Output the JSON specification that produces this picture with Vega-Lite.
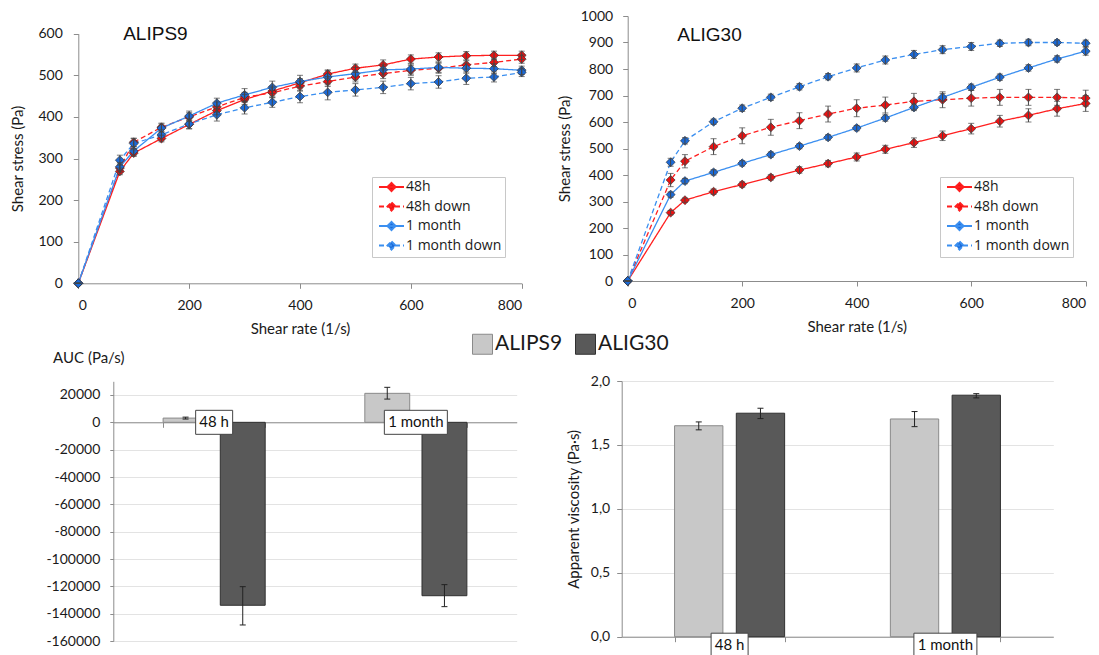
{
"$schema": "https://vega.github.io/schema/vega-lite/v6.json",
"width": 1099, "height": 655, "autosize": {"type": "none"}, "padding": 0,
"config": {
  "view": {"stroke": null},
  "locale": {"number": {"decimal": ",", "thousands": ".", "grouping": [3], "currency": ["", " €"], "minus": "-"}},
  "axis": {"labelFont": "Lato", "titleFont": "Lato", "labelFontSize": 14, "titleFontSize": 15, "titleFontWeight": "normal", "labelColor": "#1a1a1a", "titleColor": "#1a1a1a", "domainColor": "#8c8c8c", "tickColor": "#8c8c8c", "grid": false},
  "legend": {"labelFont": "Open Sans", "labelColor": "#1a1a1a"}
},
"resolve": {
  "scale": {"x": "independent", "y": "independent", "xOffset": "independent", "fill": "independent", "stroke": "independent", "strokeDash": "independent", "shape": "independent"},
  "axis": {"x": "independent", "y": "independent"},
  "legend": {"fill": "independent", "stroke": "independent", "strokeDash": "independent", "shape": "independent"}
},
"layer": [
{
  "data": {"values": [
    {"s":"48h","x":0,"v":0,"e":0},{"s":"48h","x":75,"v":269,"e":8},{"s":"48h","x":100,"v":313,"e":8},{"s":"48h","x":150,"v":348,"e":8},{"s":"48h","x":200,"v":382,"e":10},{"s":"48h","x":250,"v":415,"e":10},{"s":"48h","x":300,"v":442,"e":12},{"s":"48h","x":350,"v":462,"e":12},{"s":"48h","x":400,"v":482,"e":10},{"s":"48h","x":450,"v":503,"e":10},{"s":"48h","x":500,"v":517,"e":10},{"s":"48h","x":550,"v":525,"e":12},{"s":"48h","x":600,"v":539,"e":10},{"s":"48h","x":650,"v":544,"e":10},{"s":"48h","x":700,"v":547,"e":10},{"s":"48h","x":750,"v":548,"e":10},{"s":"48h","x":800,"v":548,"e":10},
    {"s":"48h down","x":0,"v":0,"e":0},{"s":"48h down","x":75,"v":277,"e":10},{"s":"48h down","x":100,"v":339,"e":10},{"s":"48h down","x":150,"v":375,"e":10},{"s":"48h down","x":200,"v":400,"e":10},{"s":"48h down","x":250,"v":424,"e":12},{"s":"48h down","x":300,"v":447,"e":12},{"s":"48h down","x":350,"v":458,"e":12},{"s":"48h down","x":400,"v":474,"e":12},{"s":"48h down","x":450,"v":485,"e":12},{"s":"48h down","x":500,"v":496,"e":12},{"s":"48h down","x":550,"v":504,"e":12},{"s":"48h down","x":600,"v":512,"e":12},{"s":"48h down","x":650,"v":517,"e":12},{"s":"48h down","x":700,"v":525,"e":10},{"s":"48h down","x":750,"v":531,"e":10},{"s":"48h down","x":800,"v":539,"e":10},
    {"s":"1 month","x":0,"v":0,"e":0},{"s":"1 month","x":75,"v":280,"e":10},{"s":"1 month","x":100,"v":318,"e":10},{"s":"1 month","x":150,"v":373,"e":10},{"s":"1 month","x":200,"v":402,"e":12},{"s":"1 month","x":250,"v":433,"e":12},{"s":"1 month","x":300,"v":453,"e":15},{"s":"1 month","x":350,"v":471,"e":15},{"s":"1 month","x":400,"v":485,"e":15},{"s":"1 month","x":450,"v":496,"e":15},{"s":"1 month","x":500,"v":504,"e":15},{"s":"1 month","x":550,"v":513,"e":12},{"s":"1 month","x":600,"v":515,"e":12},{"s":"1 month","x":650,"v":519,"e":12},{"s":"1 month","x":700,"v":517,"e":12},{"s":"1 month","x":750,"v":516,"e":12},{"s":"1 month","x":800,"v":512,"e":10},
    {"s":"1 month down","x":0,"v":0,"e":0},{"s":"1 month down","x":75,"v":296,"e":12},{"s":"1 month down","x":100,"v":336,"e":12},{"s":"1 month down","x":150,"v":357,"e":12},{"s":"1 month down","x":200,"v":383,"e":12},{"s":"1 month down","x":250,"v":405,"e":15},{"s":"1 month down","x":300,"v":422,"e":15},{"s":"1 month down","x":350,"v":435,"e":12},{"s":"1 month down","x":400,"v":449,"e":15},{"s":"1 month down","x":450,"v":459,"e":18},{"s":"1 month down","x":500,"v":465,"e":15},{"s":"1 month down","x":550,"v":471,"e":15},{"s":"1 month down","x":600,"v":480,"e":15},{"s":"1 month down","x":650,"v":484,"e":15},{"s":"1 month down","x":700,"v":493,"e":15},{"s":"1 month down","x":750,"v":496,"e":12},{"s":"1 month down","x":800,"v":507,"e":10}
  ]},
  "layer": [
    {"mark": {"type": "line", "strokeWidth": 1.3},
     "encoding": {
       "x": {"field": "x", "type": "quantitative", "title": "Shear rate (1/s)", "scale": {"domain": [0, 800], "range": [78.3, 521.7], "nice": false}, "axis": {"orient": "bottom", "offset": -371.7, "values": [0, 200, 400, 600, 800], "format": "d", "tickSize": 5, "labelPadding": 10, "titlePadding": 9}},
       "y": {"field": "v", "type": "quantitative", "title": "Shear stress (Pa)", "scale": {"domain": [0, 600], "range": [283.3, 33.7], "nice": false}, "axis": {"orient": "left", "offset": -78.3, "values": [0, 100, 200, 300, 400, 500, 600], "format": "d", "tickSize": 5, "labelPadding": 11, "titlePadding": 12}},
       "stroke": {"field": "s", "type": "nominal", "scale": {"domain": ["48h", "48h down", "1 month", "1 month down"], "range": ["#ff1f1f", "#ff1f1f", "#3b8ff0", "#3b8ff0"]}, "legend": {"orient": "none", "legendX": 372, "legendY": 177, "title": null, "padding": 3, "fillColor": "white", "strokeColor": "#c8c8c8", "symbolType": "M-0.6,0H4.4M1.9,-0.8L2.7,0L1.9,0.8L1.1,0Z", "symbolSize": 100, "symbolStrokeWidth": 2, "labelFontSize": 14, "labelOffset": 17, "rowPadding": 3.5}},
       "strokeDash": {"field": "s", "type": "nominal", "scale": {"domain": ["48h", "48h down", "1 month", "1 month down"], "range": [[1, 0], [5, 3], [1, 0], [5, 3]]}, "legend": {"orient": "none", "legendX": 372, "legendY": 177, "title": null, "padding": 3, "fillColor": "white", "strokeColor": "#c8c8c8", "symbolType": "M-0.6,0H4.4M1.9,-0.8L2.7,0L1.9,0.8L1.1,0Z", "symbolSize": 100, "symbolStrokeWidth": 2, "labelFontSize": 14, "labelOffset": 17, "rowPadding": 3.5}}
     }},
    {"mark": {"type": "point", "shape": "diamond", "filled": true, "size": 80, "stroke": "#333", "strokeWidth": 0.7, "opacity": 1},
     "encoding": {
       "x": {"field": "x", "type": "quantitative", "title": "Shear rate (1/s)"},
       "y": {"field": "v", "type": "quantitative", "title": "Shear stress (Pa)"},
       "fill": {"field": "s", "type": "nominal", "scale": {"domain": ["48h", "48h down", "1 month", "1 month down"], "range": ["#ee1111", "#ee1111", "#1b6ad8", "#1b6ad8"]}, "legend": {"orient": "none", "legendX": 372, "legendY": 177, "title": null, "padding": 3, "fillColor": "white", "strokeColor": "#c8c8c8", "symbolType": "M-0.6,0H4.4M1.9,-0.8L2.7,0L1.9,0.8L1.1,0Z", "symbolSize": 100, "symbolStrokeWidth": 2, "labelFontSize": 14, "labelOffset": 17, "rowPadding": 3.5}}
     }},
    {"mark": {"type": "errorbar", "ticks": {"size": 6}, "color": "#444", "thickness": 1},
     "encoding": {"x": {"field": "x", "type": "quantitative", "title": "Shear rate (1/s)"}, "y": {"field": "v", "type": "quantitative", "title": "Shear stress (Pa)"}, "yError": {"field": "e"}}},
    {"data": {"values": [{"label": "ALIPS9"}]},
     "mark": {"type": "text", "font": "Liberation Sans", "fontSize": 19, "fontWeight": "normal", "align": "left", "baseline": "alphabetic", "color": "#111"},
     "encoding": {"x": {"datum": 81}, "y": {"datum": 585}, "text": {"field": "label"}}}
  ]
},
{
  "data": {"values": [
    {"s":"48h","x":0,"v":0,"e":0},{"s":"48h","x":75,"v":258,"e":8},{"s":"48h","x":100,"v":305,"e":8},{"s":"48h","x":150,"v":337,"e":10},{"s":"48h","x":200,"v":364,"e":10},{"s":"48h","x":250,"v":391,"e":10},{"s":"48h","x":300,"v":419,"e":12},{"s":"48h","x":350,"v":443,"e":12},{"s":"48h","x":400,"v":468,"e":15},{"s":"48h","x":450,"v":497,"e":15},{"s":"48h","x":500,"v":522,"e":18},{"s":"48h","x":550,"v":548,"e":18},{"s":"48h","x":600,"v":575,"e":20},{"s":"48h","x":650,"v":603,"e":22},{"s":"48h","x":700,"v":625,"e":25},{"s":"48h","x":750,"v":650,"e":28},{"s":"48h","x":800,"v":670,"e":30},
    {"s":"48h down","x":0,"v":0,"e":0},{"s":"48h down","x":75,"v":381,"e":25},{"s":"48h down","x":100,"v":452,"e":25},{"s":"48h down","x":150,"v":507,"e":30},{"s":"48h down","x":200,"v":548,"e":30},{"s":"48h down","x":250,"v":580,"e":30},{"s":"48h down","x":300,"v":605,"e":30},{"s":"48h down","x":350,"v":630,"e":30},{"s":"48h down","x":400,"v":652,"e":32},{"s":"48h down","x":450,"v":664,"e":30},{"s":"48h down","x":500,"v":678,"e":30},{"s":"48h down","x":550,"v":684,"e":30},{"s":"48h down","x":600,"v":690,"e":30},{"s":"48h down","x":650,"v":693,"e":30},{"s":"48h down","x":700,"v":693,"e":30},{"s":"48h down","x":750,"v":693,"e":30},{"s":"48h down","x":800,"v":690,"e":30},
    {"s":"1 month","x":0,"v":0,"e":0},{"s":"1 month","x":75,"v":326,"e":10},{"s":"1 month","x":100,"v":377,"e":10},{"s":"1 month","x":150,"v":410,"e":10},{"s":"1 month","x":200,"v":444,"e":10},{"s":"1 month","x":250,"v":477,"e":10},{"s":"1 month","x":300,"v":509,"e":10},{"s":"1 month","x":350,"v":542,"e":10},{"s":"1 month","x":400,"v":577,"e":10},{"s":"1 month","x":450,"v":615,"e":12},{"s":"1 month","x":500,"v":655,"e":12},{"s":"1 month","x":550,"v":693,"e":15},{"s":"1 month","x":600,"v":731,"e":12},{"s":"1 month","x":650,"v":769,"e":12},{"s":"1 month","x":700,"v":804,"e":12},{"s":"1 month","x":750,"v":838,"e":12},{"s":"1 month","x":800,"v":867,"e":15},
    {"s":"1 month down","x":0,"v":0,"e":0},{"s":"1 month down","x":75,"v":448,"e":15},{"s":"1 month down","x":100,"v":529,"e":12},{"s":"1 month down","x":150,"v":601,"e":10},{"s":"1 month down","x":200,"v":652,"e":12},{"s":"1 month down","x":250,"v":693,"e":12},{"s":"1 month down","x":300,"v":733,"e":12},{"s":"1 month down","x":350,"v":771,"e":12},{"s":"1 month down","x":400,"v":804,"e":15},{"s":"1 month down","x":450,"v":834,"e":15},{"s":"1 month down","x":500,"v":855,"e":15},{"s":"1 month down","x":550,"v":873,"e":15},{"s":"1 month down","x":600,"v":885,"e":15},{"s":"1 month down","x":650,"v":897,"e":12},{"s":"1 month down","x":700,"v":900,"e":12},{"s":"1 month down","x":750,"v":900,"e":10},{"s":"1 month down","x":800,"v":897,"e":12}
  ]},
  "layer": [
    {"mark": {"type": "line", "strokeWidth": 1.3},
     "encoding": {
       "x": {"field": "x", "type": "quantitative", "title": "Shear rate (1/s)", "scale": {"domain": [0, 800], "range": [627.7, 1085.7], "nice": false}, "axis": {"orient": "bottom", "offset": -374, "values": [0, 200, 400, 600, 800], "format": "d", "tickSize": 5, "labelPadding": 10, "titlePadding": 9}},
       "y": {"field": "v", "type": "quantitative", "title": "Shear stress (Pa)", "scale": {"domain": [0, 1000], "range": [281, 16], "nice": false}, "axis": {"orient": "left", "offset": -627.7, "values": [0, 100, 200, 300, 400, 500, 600, 700, 800, 900, 1000], "format": "d", "tickSize": 5, "labelPadding": 10, "titlePadding": 8}},
       "stroke": {"field": "s", "type": "nominal", "scale": {"domain": ["48h", "48h down", "1 month", "1 month down"], "range": ["#ff1f1f", "#ff1f1f", "#3b8ff0", "#3b8ff0"]}, "legend": {"orient": "none", "legendX": 940, "legendY": 177, "title": null, "padding": 3, "fillColor": "white", "strokeColor": "#c8c8c8", "symbolType": "M-0.6,0H4.4M1.9,-0.8L2.7,0L1.9,0.8L1.1,0Z", "symbolSize": 100, "symbolStrokeWidth": 2, "labelFontSize": 14, "labelOffset": 17, "rowPadding": 3.5}},
       "strokeDash": {"field": "s", "type": "nominal", "scale": {"domain": ["48h", "48h down", "1 month", "1 month down"], "range": [[1, 0], [5, 3], [1, 0], [5, 3]]}, "legend": {"orient": "none", "legendX": 940, "legendY": 177, "title": null, "padding": 3, "fillColor": "white", "strokeColor": "#c8c8c8", "symbolType": "M-0.6,0H4.4M1.9,-0.8L2.7,0L1.9,0.8L1.1,0Z", "symbolSize": 100, "symbolStrokeWidth": 2, "labelFontSize": 14, "labelOffset": 17, "rowPadding": 3.5}}
     }},
    {"mark": {"type": "point", "shape": "diamond", "filled": true, "size": 80, "stroke": "#333", "strokeWidth": 0.7, "opacity": 1},
     "encoding": {
       "x": {"field": "x", "type": "quantitative", "title": "Shear rate (1/s)"},
       "y": {"field": "v", "type": "quantitative", "title": "Shear stress (Pa)"},
       "fill": {"field": "s", "type": "nominal", "scale": {"domain": ["48h", "48h down", "1 month", "1 month down"], "range": ["#ee1111", "#ee1111", "#1b6ad8", "#1b6ad8"]}, "legend": {"orient": "none", "legendX": 940, "legendY": 177, "title": null, "padding": 3, "fillColor": "white", "strokeColor": "#c8c8c8", "symbolType": "M-0.6,0H4.4M1.9,-0.8L2.7,0L1.9,0.8L1.1,0Z", "symbolSize": 100, "symbolStrokeWidth": 2, "labelFontSize": 14, "labelOffset": 17, "rowPadding": 3.5}}
     }},
    {"mark": {"type": "errorbar", "ticks": {"size": 6}, "color": "#444", "thickness": 1},
     "encoding": {"x": {"field": "x", "type": "quantitative", "title": "Shear rate (1/s)"}, "y": {"field": "v", "type": "quantitative", "title": "Shear stress (Pa)"}, "yError": {"field": "e"}}},
    {"data": {"values": [{"label": "ALIG30"}]},
     "mark": {"type": "text", "font": "Liberation Sans", "fontSize": 19, "fontWeight": "normal", "align": "left", "baseline": "alphabetic", "color": "#111"},
     "encoding": {"x": {"datum": 86.6}, "y": {"datum": 907}, "text": {"field": "label"}}}
  ]
},
{
  "data": {"values": [
    {"period": "48 h", "material": "ALIPS9", "v": 3100, "lo": 2400, "hi": 3800},
    {"period": "48 h", "material": "ALIG30", "v": -133800, "lo": -148200, "hi": -120200},
    {"period": "1 month", "material": "ALIPS9", "v": 21200, "lo": 17000, "hi": 25600},
    {"period": "1 month", "material": "ALIG30", "v": -126800, "lo": -134800, "hi": -118700}
  ]},
  "layer": [
    {"mark": {"type": "bar", "opacity": 1, "strokeWidth": 1},
     "encoding": {
       "x": {"field": "period", "type": "nominal", "sort": ["48 h", "1 month"], "scale": {"domain": ["48 h", "1 month"], "range": [113.3, 516.7], "paddingInner": 0.494, "paddingOuter": 0.247}, "axis": {"orient": "bottom", "offset": -232.7, "labels": false, "title": null, "tickBand": "extent", "tickSize": 5}},
       "xOffset": {"field": "material", "type": "nominal", "sort": ["ALIPS9", "ALIG30"], "scale": {"domain": ["ALIPS9", "ALIG30"], "paddingInner": 0.215, "paddingOuter": 0}},
       "y": {"field": "v", "type": "quantitative", "title": "AUC (Pa/s)", "scale": {"domain": [-160000, 30000], "range": [641.1, 381.3], "nice": false}, "axis": {"orient": "left", "offset": -113.3, "values": [-160000, -140000, -120000, -100000, -80000, -60000, -40000, -20000, 0, 20000], "format": "d", "grid": true, "gridColor": "#e3e3e3", "tickSize": 3.5, "labelPadding": 10, "titleAngle": 0, "titleX": -25, "titleY": 357, "titleAlign": "center", "titleBaseline": "middle"}},
       "fill": {"field": "material", "type": "nominal", "scale": {"domain": ["ALIPS9", "ALIG30"], "range": ["#c8c8c8", "#595959"]}, "legend": {"orient": "none", "legendX": 472, "legendY": 333.5, "direction": "horizontal", "title": null, "padding": 0, "symbolType": "square", "symbolSize": 400, "symbolStrokeColor": "#333", "symbolStrokeWidth": 1, "labelFont": "Lato", "labelFontSize": 21, "labelOffset": 2, "columnPadding": 10}},
       "stroke": {"field": "material", "type": "nominal", "scale": {"domain": ["ALIPS9", "ALIG30"], "range": ["#8a8a8a", "#303030"]}, "legend": null}
     }},
    {"mark": {"type": "rule", "color": "#222", "strokeWidth": 1},
     "encoding": {"x": {"field": "period", "type": "nominal"}, "xOffset": {"field": "material", "type": "nominal"}, "y": {"field": "lo", "type": "quantitative", "title": "AUC (Pa/s)"}, "y2": {"field": "hi"}}},
    {"mark": {"type": "tick", "color": "#222", "size": 6, "thickness": 1, "opacity": 1},
     "encoding": {"x": {"field": "period", "type": "nominal"}, "xOffset": {"field": "material", "type": "nominal"}, "y": {"field": "lo", "type": "quantitative", "title": "AUC (Pa/s)"}}},
    {"mark": {"type": "tick", "color": "#222", "size": 6, "thickness": 1, "opacity": 1},
     "encoding": {"x": {"field": "period", "type": "nominal"}, "xOffset": {"field": "material", "type": "nominal"}, "y": {"field": "hi", "type": "quantitative", "title": "AUC (Pa/s)"}}},
    {"data": {"values": [{"period": "48 h"}, {"period": "1 month"}]},
     "layer": [
       {"mark": {"type": "point", "filled": true, "fill": "white", "stroke": "#444", "strokeWidth": 1, "size": 100, "opacity": 1},
        "encoding": {"x": {"field": "period", "type": "nominal"}, "y": {"datum": 0, "title": "AUC (Pa/s)"}, "shape": {"field": "period", "type": "nominal", "scale": {"domain": ["48 h", "1 month"], "range": ["M-3.7,-2.4H3.7V2.4H-3.7Z", "M-6.3,-2.4H6.3V2.4H-6.3Z"]}, "legend": null}}},
       {"mark": {"type": "text", "font": "Lato", "fontSize": 15, "color": "#111", "baseline": "middle", "align": "center"},
        "encoding": {"x": {"field": "period", "type": "nominal"}, "y": {"datum": 0, "title": "AUC (Pa/s)"}, "text": {"field": "period"}}}
     ]}
  ]
},
{
  "data": {"values": [
    {"period": "48 h", "material": "ALIPS9", "v": 1.65, "lo": 1.618, "hi": 1.68},
    {"period": "48 h", "material": "ALIG30", "v": 1.748, "lo": 1.706, "hi": 1.787},
    {"period": "1 month", "material": "ALIPS9", "v": 1.703, "lo": 1.643, "hi": 1.761},
    {"period": "1 month", "material": "ALIG30", "v": 1.889, "lo": 1.868, "hi": 1.901}
  ]},
  "layer": [
    {"mark": {"type": "bar", "opacity": 1, "strokeWidth": 1},
     "encoding": {
       "x": {"field": "period", "type": "nominal", "sort": ["48 h", "1 month"], "scale": {"domain": ["48 h", "1 month"], "range": [621.7, 1053.3], "paddingInner": 0.49, "paddingOuter": 0.245}, "axis": {"orient": "bottom", "offset": -18.3, "labels": false, "title": null, "tickBand": "extent", "tickSize": 5}},
       "xOffset": {"field": "material", "type": "nominal", "sort": ["ALIPS9", "ALIG30"], "scale": {"domain": ["ALIPS9", "ALIG30"], "paddingInner": 0.217, "paddingOuter": 0}},
       "y": {"field": "v", "type": "quantitative", "title": "Apparent viscosity (Pa·s)", "scale": {"domain": [0, 2], "range": [636.7, 381], "nice": false}, "axis": {"orient": "left", "offset": -621.7, "values": [0, 0.5, 1, 1.5, 2], "format": ".1f", "grid": true, "gridColor": "#e3e3e3", "tickSize": 5, "labelPadding": 7, "titlePadding": 9}},
       "fill": {"field": "material", "type": "nominal", "scale": {"domain": ["ALIPS9", "ALIG30"], "range": ["#c8c8c8", "#595959"]}, "legend": null},
       "stroke": {"field": "material", "type": "nominal", "scale": {"domain": ["ALIPS9", "ALIG30"], "range": ["#8a8a8a", "#303030"]}, "legend": null}
     }},
    {"mark": {"type": "rule", "color": "#222", "strokeWidth": 1},
     "encoding": {"x": {"field": "period", "type": "nominal"}, "xOffset": {"field": "material", "type": "nominal"}, "y": {"field": "lo", "type": "quantitative", "title": "Apparent viscosity (Pa·s)"}, "y2": {"field": "hi"}}},
    {"mark": {"type": "tick", "color": "#222", "size": 6, "thickness": 1, "opacity": 1},
     "encoding": {"x": {"field": "period", "type": "nominal"}, "xOffset": {"field": "material", "type": "nominal"}, "y": {"field": "lo", "type": "quantitative", "title": "Apparent viscosity (Pa·s)"}}},
    {"mark": {"type": "tick", "color": "#222", "size": 6, "thickness": 1, "opacity": 1},
     "encoding": {"x": {"field": "period", "type": "nominal"}, "xOffset": {"field": "material", "type": "nominal"}, "y": {"field": "hi", "type": "quantitative", "title": "Apparent viscosity (Pa·s)"}}},
    {"data": {"values": [{"period": "48 h"}, {"period": "1 month"}]},
     "layer": [
       {"mark": {"type": "point", "filled": true, "fill": "white", "stroke": "#444", "strokeWidth": 1, "size": 100, "opacity": 1, "yOffset": 8.5},
        "encoding": {"x": {"field": "period", "type": "nominal"}, "y": {"datum": 0, "title": "Apparent viscosity (Pa·s)"}, "shape": {"field": "period", "type": "nominal", "scale": {"domain": ["48 h", "1 month"], "range": ["M-3.7,-2.4H3.7V2.4H-3.7Z", "M-6.3,-2.4H6.3V2.4H-6.3Z"]}, "legend": null}}},
       {"mark": {"type": "text", "font": "Lato", "fontSize": 15, "color": "#111", "baseline": "middle", "align": "center", "yOffset": 8.5},
        "encoding": {"x": {"field": "period", "type": "nominal"}, "y": {"datum": 0, "title": "Apparent viscosity (Pa·s)"}, "text": {"field": "period"}}}
     ]}
  ]
}
]
}
